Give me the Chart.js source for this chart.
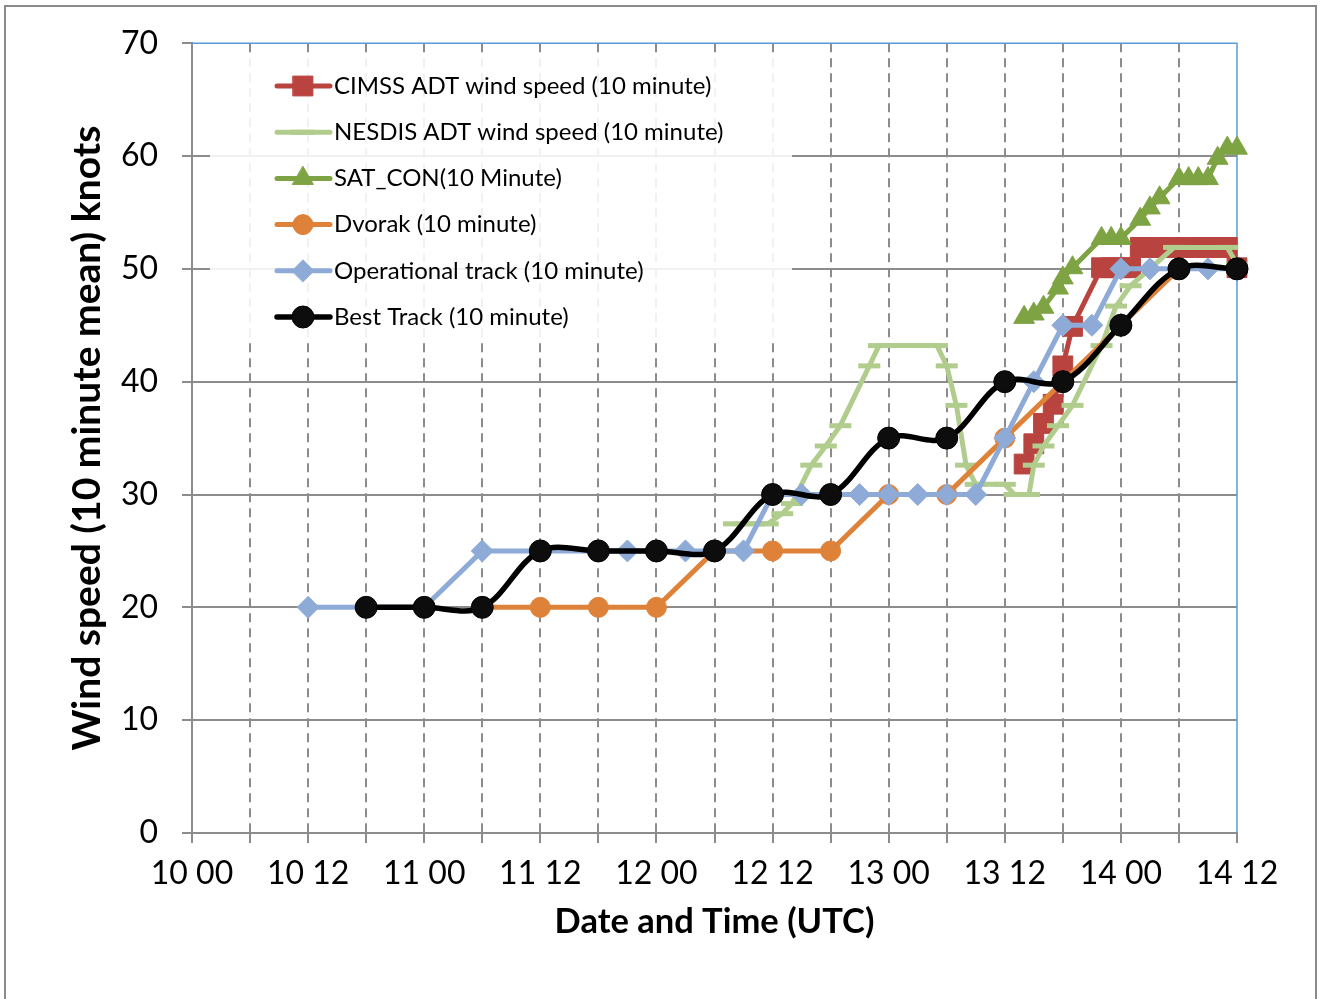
<!DOCTYPE html>
<html>
<head>
<meta charset="utf-8">
<title>Wind speed (10 minute mean)</title>
<script src="https://cdn.jsdelivr.net/npm/chart.js@4.4.1/dist/chart.umd.min.js"></script>
<style>
	html, body { margin: 0; padding: 0; background: #fff; }
	canvas { display: block; }
</style>
</head>
<body>
<canvas id="wind" width="1320" height="999"></canvas>
<script>
// x values are hours after 10 00 UTC
const xTickLabels = ['10 00', '10 12', '11 00', '11 12', '12 00', '12 12', '13 00', '13 12', '14 00', '14 12'];

const cimssHours = [86, 87, 88, 89, 90, 91, 94, 95, 96, 97, 98, 99, 100, 101, 102, 103, 104, 105, 106, 107, 108];
const cimssKnots = [32.7, 34.5, 36.3, 38, 41.4, 44.9, 50.1, 50.1, 50.1, 50.1, 51.9, 51.9, 51.9, 51.9, 51.9, 51.9, 51.9, 51.9, 51.9, 51.9, 50.1];

const nesdisHours = [56, 58, 59.5, 61, 62, 64, 65.5, 67, 70, 71, 77, 78, 79, 80, 81, 84, 85, 86.5, 87, 88, 89.5, 91, 94, 95.5, 97, 101.5, 107, 108];
const nesdisKnots = [27.4, 27.4, 27.4, 28.3, 29.2, 32.6, 34.3, 36.1, 41.4, 43.2, 43.2, 41.4, 37.9, 32.6, 30.9, 30.9, 30, 30, 32.6, 34.3, 36.1, 37.9, 43.2, 46.7, 48.5, 51.9, 51.9, 50.4];

const satconHours = [86, 87, 88, 89.5, 90, 91, 94, 95, 96, 98, 99, 100, 102, 103, 104, 105, 106, 107, 108];
const satconKnots = [45.7, 46, 46.6, 48.3, 49.2, 50.1, 52.7, 52.7, 52.7, 54.4, 55.4, 56.3, 58, 58, 58, 58, 59.8, 60.7, 60.7];

const dvorakHours = [30, 36, 42, 48, 54, 60, 66, 72, 78, 84, 90, 96, 102];
const dvorakKnots = [20, 20, 20, 20, 25, 25, 25, 30, 30, 35, 40, 45, 50];

const operHours = [12, 18, 24, 30, 36, 42, 45, 48, 51, 54, 57, 60, 63, 66, 69, 72, 75, 78, 81, 84, 87, 90, 93, 96, 99, 102, 105, 108];
const operKnots = [20, 20, 20, 25, 25, 25, 25, 25, 25, 25, 25, 30, 30, 30, 30, 30, 30, 30, 30, 35, 40, 45, 45, 50, 50, 50, 50, 50];

const bestHours = [18, 24, 30, 36, 42, 48, 54, 60, 66, 72, 78, 84, 90, 96, 102, 108];
const bestKnots = [20, 20, 20, 25, 25, 25, 25, 30, 30, 35, 35, 40, 40, 45, 50, 50];

const toPoints = (hours, knots) => hours.map((h, i) => ({ x: h, y: knots[i] }));

function series(label, hours, knots, color, style, order, extra = {}) {
	return Object.assign({
		label: label,
		data: toPoints(hours, knots),
		borderColor: color,
		backgroundColor: color,
		borderWidth: 5,
		pointStyle: style,
		pointRadius: 10,
		pointBackgroundColor: color,
		pointBorderColor: color,
		pointBorderWidth: 1,
		tension: 0,
		clip: false,
		order: order,
	}, extra);
}

Chart.defaults.font.family = 'Lato, "Noto Sans", sans-serif';

// legend sits inside the plot, like the original
const legendInside = {
	id: 'legendInside',
	beforeDatasetsDraw(chart) {
		const ctx = chart.ctx;
		ctx.save();
		ctx.fillStyle = 'rgba(255,255,255,0.88)';
		ctx.fillRect(210, 58, 582, 284);
		chart.data.datasets.forEach((ds, i) => {
			const y = 86 + i * 46.2;
			ctx.strokeStyle = ds.borderColor;
			ctx.lineWidth = ds.borderWidth;
			ctx.lineCap = 'round';
			ctx.setLineDash([]);
			ctx.beginPath();
			ctx.moveTo(277, y);
			ctx.lineTo(330, y);
			ctx.stroke();
			if (Chart.helpers && Chart.helpers.drawPoint) {
				ctx.fillStyle = ds.pointBackgroundColor;
				ctx.strokeStyle = ds.pointBorderColor;
				ctx.lineWidth = ds.pointBorderWidth;
				Chart.helpers.drawPoint(ctx, {
					pointStyle: ds.pointStyle,
					radius: ds.pointRadius,
					borderWidth: ds.pointBorderWidth,
					rotation: 0,
				}, 303, y);
			}
			ctx.fillStyle = '#000';
			ctx.font = '24px Lato';
			ctx.textAlign = 'left';
			ctx.textBaseline = 'middle';
			ctx.fillText(ds.label, 334, y);
		});
		ctx.restore();
	},
};

const plotFrame = {
	id: 'plotFrame',
	beforeDatasetsDraw(chart) {
		const { ctx, chartArea } = chart;
		ctx.save();
		ctx.strokeStyle = '#5b9bd5';
		ctx.lineWidth = 1.5;
		ctx.beginPath();
		ctx.moveTo(chartArea.left, chartArea.top);
		ctx.lineTo(chartArea.right, chartArea.top);
		ctx.lineTo(chartArea.right, chartArea.bottom);
		ctx.stroke();
		ctx.restore();
	},
	afterDraw(chart) {
		const ctx = chart.ctx;
		ctx.save();
		ctx.strokeStyle = '#8a8a8a';
		ctx.lineWidth = 2;
		ctx.strokeRect(5, 6, 1311, 1100);
		ctx.restore();
	},
};

const gridGrey = '#8c8c8c';

new Chart(document.getElementById('wind'), {
	type: 'line',
	data: {
		datasets: [
			series('CIMSS ADT wind speed (10 minute)', cimssHours, cimssKnots, '#b9443f', 'rect', 6, { pointRadius: 14 }),
			series('NESDIS ADT wind speed (10 minute)', nesdisHours, nesdisKnots, '#b1cd8d', 'line', 5, { pointRadius: 11, pointBorderWidth: 5 }),
			series('SAT_CON(10 Minute)', satconHours, satconKnots, '#7ea343', 'triangle', 4, { pointRadius: 12 }),
			series('Dvorak (10 minute)', dvorakHours, dvorakKnots, '#de823a', 'circle', 3, { pointRadius: 10 }),
			series('Operational track (10 minute)', operHours, operKnots, '#8eaad6', 'rectRot', 2, { pointRadius: 11 }),
			series('Best Track (10 minute)', bestHours, bestKnots, '#000000', 'circle', 1, {
				borderWidth: 5.5,
				pointRadius: 11,
				pointBackgroundColor: '#0d0d0d',
				tension: 0.35,
			}),
		],
	},
	options: {
		responsive: false,
		animation: false,
		layout: { padding: { left: 0, top: 42, right: 83, bottom: 0 } },
		plugins: {
			legend: { display: false },
			tooltip: { enabled: false },
		},
		scales: {
			x: {
				type: 'linear',
				min: 0,
				max: 108,
				afterFit(axis) { axis.height = 166; },
				ticks: {
					stepSize: 6,
					autoSkip: false,
					maxRotation: 0,
					padding: 11,
					color: '#000',
					font: { size: 32 },
					callback: (v) => (v % 12 === 0 ? xTickLabels[v / 12] : ''),
				},
				grid: {
					color: (c) => (c.tick && (c.tick.value === 0 || c.tick.value === 108) ? 'rgba(0,0,0,0)' : gridGrey),
					lineWidth: 2,
					tickLength: 10,
					tickColor: gridGrey,
					tickWidth: 2,
				},
				border: { display: true, color: gridGrey, width: 2, dash: [9, 6] },
				title: {
					display: true,
					text: 'Date and Time (UTC)',
					color: '#000',
					font: { size: 34.5, weight: 'bold' },
					padding: { top: 0, bottom: 56 },
				},
			},
			y: {
				min: 0,
				max: 70,
				afterFit(axis) { axis.width = 192; },
				ticks: {
					stepSize: 10,
					padding: 24,
					color: '#000',
					font: { size: 32 },
				},
				grid: {
					color: (c) => (c.tick && c.tick.value === 70 ? 'rgba(0,0,0,0)' : gridGrey),
					lineWidth: 2,
					tickLength: 10,
					tickColor: gridGrey,
					tickWidth: 2,
				},
				border: { display: true, color: gridGrey, width: 2 },
				title: {
					display: true,
					text: 'Wind speed (10 minute mean) knots',
					color: '#000',
					font: { size: 39, weight: 'bold' },
					padding: { top: 64, bottom: 0 },
				},
			},
		},
	},
	plugins: [plotFrame, legendInside],
});
</script>
</body>
</html>
